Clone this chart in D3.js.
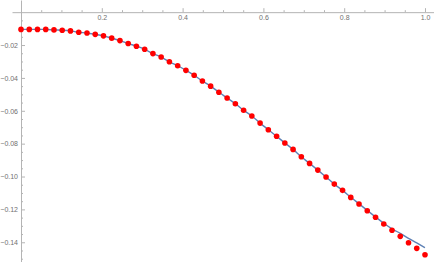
<html>
<head>
<meta charset="utf-8">
<title>fit plot</title>
<style type="text/css">
body { margin: 0; background: #fff; }
svg { font-family: "Liberation Sans", Arial, sans-serif; }
.axis path, .axis line { stroke: #b4b4b4; stroke-width: 1px; }
.axis text { fill: #707070; font-size: 7px; }
.fit { fill: none; stroke: #5e81b5; stroke-width: 1.4px; }
.pt { fill: #ff0000; }
</style>
</head>
<body>
<script src="https://d3js.org/d3.v7.min.js"></script>
<script>
var W = 434, H = 262;

// sample positions (0 .. 1 in 49 steps)
var xVals = [0, 0.0204, 0.0408, 0.0612, 0.0816, 0.1020, 0.1224, 0.1429, 0.1633, 0.1837,
  0.2041, 0.2245, 0.2449, 0.2653, 0.2857, 0.3061, 0.3265, 0.3469, 0.3673, 0.3878,
  0.4082, 0.4286, 0.4490, 0.4694, 0.4898, 0.5102, 0.5306, 0.5510, 0.5714, 0.5918,
  0.6122, 0.6327, 0.6531, 0.6735, 0.6939, 0.7143, 0.7347, 0.7551, 0.7755, 0.7959,
  0.8163, 0.8367, 0.8571, 0.8776, 0.8980, 0.9184, 0.9388, 0.9592, 0.9796, 1.0];

// red points
var dataVals = [-0.0105, -0.0105, -0.0105, -0.0105, -0.0108, -0.0110, -0.0114, -0.0122, -0.0127, -0.0135,
  -0.0144, -0.0158, -0.0173, -0.0191, -0.0207, -0.0226, -0.0252, -0.0273, -0.0302, -0.0326,
  -0.0354, -0.0384, -0.0419, -0.0450, -0.0487, -0.0522, -0.0557, -0.0597, -0.0632, -0.0675,
  -0.0715, -0.0755, -0.0796, -0.0835, -0.0880, -0.0920, -0.0961, -0.1003, -0.1046, -0.1084,
  -0.1127, -0.1167, -0.1208, -0.1248, -0.1289, -0.1327, -0.1364, -0.1403, -0.1437, -0.1476];

// blue fitted curve
var fitVals = [-0.0105, -0.0105, -0.0105, -0.0105, -0.0108, -0.0110, -0.0114, -0.0122, -0.0127, -0.0135,
  -0.0144, -0.0158, -0.0173, -0.0191, -0.0207, -0.0226, -0.0252, -0.0273, -0.0302, -0.0326,
  -0.0354, -0.0384, -0.0419, -0.0450, -0.0487, -0.0522, -0.0557, -0.0597, -0.0632, -0.0675,
  -0.0715, -0.0755, -0.0796, -0.0835, -0.0880, -0.0920, -0.0961, -0.1003, -0.1046, -0.1084,
  -0.1126, -0.1166, -0.1206, -0.1246, -0.1284, -0.1318, -0.1346, -0.1376, -0.1404, -0.1433];

var xMajor = [0.2, 0.4, 0.6, 0.8, 1.0];
var xMinor = [0.05, 0.1, 0.15, 0.25, 0.3, 0.35, 0.45, 0.5, 0.55, 0.65, 0.7, 0.75, 0.85, 0.9, 0.95];
var yMajor = [-0.02, -0.04, -0.06, -0.08, -0.10, -0.12, -0.14];
var yMinor = [-0.005, -0.01, -0.015, -0.025, -0.03, -0.035, -0.045, -0.05, -0.055,
  -0.065, -0.07, -0.075, -0.085, -0.09, -0.095, -0.105, -0.11, -0.115,
  -0.125, -0.13, -0.135, -0.145, -0.15];

var xs = d3.scaleLinear().domain([-0.0223, 1.0223]).range([12, 434]),
    ys = d3.scaleLinear().domain([0.0074, -0.152]).range([0, 262]);

var svg = d3.select("body").append("svg")
    .attr("width", W)
    .attr("height", H);

// x axis sits at y = 0, ticks point up, labels underneath
svg.append("g").attr("class", "axis")
    .attr("transform", "translate(0," + ys(0) + ")")
    .call(d3.axisBottom(xs).tickValues(xMinor).tickSize(-2).tickFormat(""))
    .call(function(g) { g.select(".domain").remove(); });
svg.append("g").attr("class", "axis")
    .attr("transform", "translate(0," + ys(0) + ")")
    .call(d3.axisBottom(xs).tickValues(xMajor).tickSizeInner(-4).tickSizeOuter(0)
      .tickPadding(3).tickFormat(d3.format(".1f")));

// y axis at x = 0, ticks point right, labels left
svg.append("g").attr("class", "axis")
    .attr("transform", "translate(" + xs(0) + ",0)")
    .call(d3.axisLeft(ys).tickValues(yMinor).tickSize(-2).tickFormat(""))
    .call(function(g) { g.select(".domain").remove(); });
svg.append("g").attr("class", "axis")
    .attr("transform", "translate(" + xs(0) + ",0)")
    .call(d3.axisLeft(ys).tickValues(yMajor).tickSizeInner(-4).tickSizeOuter(0)
      .tickPadding(3).tickFormat(d3.format(".2f")));

var line = d3.line()
    .x(function(d, i) { return xs(xVals[i]); })
    .y(function(d) { return ys(d); })
    .curve(d3.curveMonotoneX);

svg.append("path")
    .datum(fitVals)
    .attr("class", "fit")
    .attr("d", line);

svg.selectAll("circle.pt")
    .data(dataVals)
  .enter().append("circle")
    .attr("class", "pt")
    .attr("cx", function(d, i) { return xs(xVals[i]); })
    .attr("cy", function(d) { return ys(d); })
    .attr("r", 2.8);
</script>
</body>
</html>
